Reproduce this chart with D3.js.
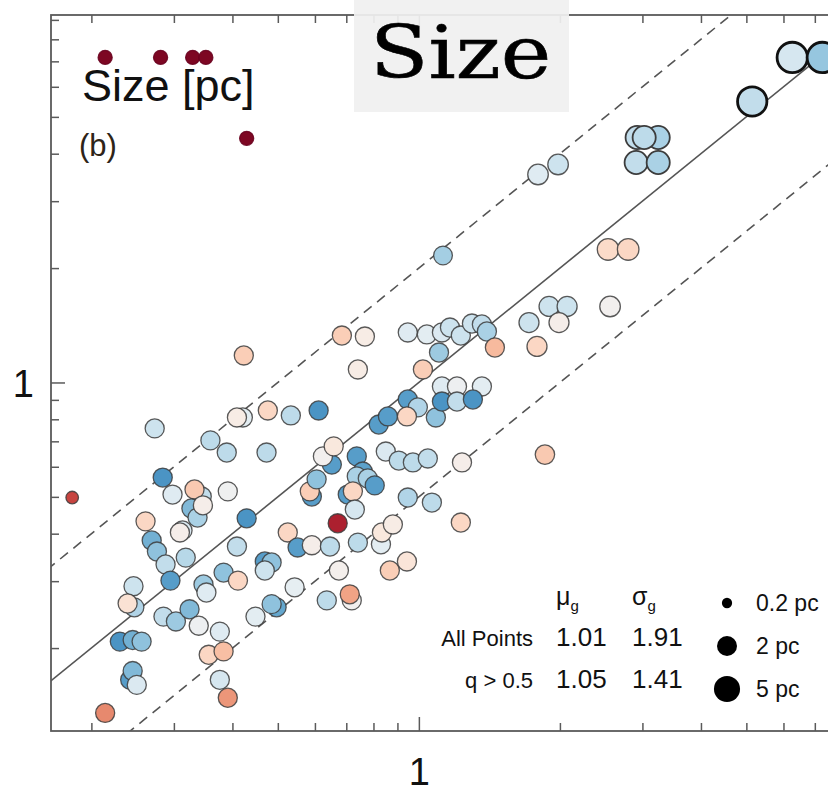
<!DOCTYPE html>
<html>
<head>
<meta charset="utf-8">
<script src="https://cdn.jsdelivr.net/npm/d3@7"></script>
<style>
  html, body { margin: 0; padding: 0; background: #fff; }
  svg { display: block; font-family: "Liberation Sans", Arial, Helvetica, sans-serif; }
</style>
</head>
<body>
<svg id="chart" width="828" height="794"></svg>
<script>
// ---- data ----
// x and y: size [pc] in the two measurements; pc: marker size; q: colour value (0 red .. 1 blue)
const xVals = [0.214,0.281,0.329,0.351,0.429,
 0.423,0.685,0.767,0.741,0.947,1.040,1.120,1.165,1.229,1.298,1.363,1.397,1.104,1.453,1.020,
 1.718,1.787,1.896,2.072,1.991,2.559,1.796,1.982,1.126,2.534,2.797,
 2.923,3.242,3.026,2.909,3.242,5.146,6.266,7.262,
 0.273,0.421,0.409,0.476,0.533,0.611,0.359,0.389,0.473,0.284,0.298,0.344,0.332,0.327,0.337,0.346,0.391,
 0.182,0.261,0.429,0.269,0.276,0.288,0.313,0.309,0.318,0.409,0.295,0.246,0.247,0.239,0.347,0.352,0.383,0.411,
 0.285,0.303,0.324,0.339,0.230,0.245,0.256,0.242,0.245,0.250,0.214,0.376,0.356,0.383,0.376,0.391,
 0.448,0.497,0.485,0.543,0.636,0.719,0.712,0.675,0.741,0.830,0.834,0.880,0.867,0.943,0.671,
 0.525,0.551,0.591,0.646,0.469,0.485,0.469,0.591,0.585,0.605,0.652,0.624,0.658,
 0.737,0.759,0.737,0.778,0.805,0.705,0.723,0.730,0.850,0.906,0.971,1.045,
 0.821,0.859,0.947,0.995,0.943,1.087,0.947,1.066,
 1.120,1.206,1.363,1.120,1.206,1.304,1.236,1.858,1.229];
const yVals = [7.17,7.17,7.17,7.17,4.39,
 1.178,1.329,1.321,1.082,1.354,1.338,1.354,1.395,1.329,1.429,1.421,1.362,1.199,1.236,1.082,
 1.438,1.244,1.585,1.585,1.438,1.585,3.527,3.747,2.159,2.239,2.239,
 4.413,4.413,4.413,3.793,3.793,5.489,7.166,7.166,
 0.757,0.809,0.809,0.844,0.819,0.844,0.704,0.654,0.654,0.562,0.507,0.501,0.523,0.466,0.441,0.475,0.517,
 0.498,0.431,0.439,0.384,0.359,0.332,0.408,0.403,0.346,0.370,0.301,0.291,0.256,0.262,0.294,0.280,0.316,0.301,
 0.242,0.235,0.253,0.229,0.208,0.210,0.208,0.165,0.174,0.160,0.135,0.221,0.192,0.196,0.165,0.148,
 0.242,0.256,0.261,0.289,0.267,0.267,0.277,0.320,0.379,0.375,0.403,0.423,0.320,0.338,0.426,
 0.403,0.368,0.373,0.370,0.338,0.336,0.320,0.501,0.517,0.556,0.608,0.639,0.679,
 0.639,0.583,0.566,0.559,0.536,0.507,0.517,0.463,0.658,0.623,0.616,0.631,
 0.775,0.814,0.902,0.860,0.814,0.809,0.498,0.483,
 0.976,0.976,0.976,0.891,0.891,0.902,0.616,0.646,0.428];
const pcVals = [0.6,0.6,0.6,0.6,0.6,
 1.7,1.7,1.7,1.7,1.7,1.7,1.7,1.7,1.7,1.7,1.7,1.7,1.7,1.7,1.7,
 2.0,2.0,2.0,2.0,2.0,2.2,2.2,2.2,1.6,2.6,2.6,
 3.3,3.3,3.3,3.3,3.3,7.5,8.5,8.5,
 1.7,1.7,1.7,1.7,1.7,1.7,1.7,1.7,1.7,1.7,1.7,1.7,1.7,1.7,1.7,1.7,1.7,
 0.4,1.7,1.7,1.7,1.7,1.7,1.7,1.7,1.7,1.7,1.7,1.7,1.7,1.7,1.7,1.7,1.7,1.7,
 1.7,1.7,1.7,1.7,1.7,1.7,1.7,1.7,1.7,1.7,1.7,1.7,1.7,1.7,1.7,1.7,
 1.7,1.7,1.7,1.7,1.7,1.7,1.7,1.7,1.7,1.7,1.7,1.7,1.7,1.7,1.7,
 1.7,1.7,1.7,1.7,1.7,1.7,1.7,1.7,1.7,1.7,1.7,1.7,1.7,
 1.7,1.7,1.7,1.7,1.7,1.7,1.7,1.7,1.7,1.7,1.7,1.7,
 1.7,1.7,1.7,1.7,1.7,1.7,1.7,1.7,
 1.7,1.7,1.7,1.7,1.7,1.7,1.7,1.8,1.7];
const qVals = [0.03,0.03,0.03,0.03,0.03,
 0.38,0.38,0.47,0.47,0.56,0.55,0.57,0.6,0.6,0.6,0.62,0.66,0.68,0.34,0.38,
 0.6,0.4,0.6,0.6,0.48,0.5,0.56,0.6,0.67,0.41,0.4,
 0.62,0.66,0.63,0.62,0.66,0.62,0.58,0.69,
 0.6,0.55,0.47,0.4,0.63,0.8,0.63,0.63,0.63,0.8,0.56,0.62,0.37,0.72,0.66,0.48,0.51,
 0.16,0.4,0.8,0.74,0.7,0.62,0.57,0.48,0.64,0.62,0.78,0.6,0.65,0.43,0.68,0.56,0.7,0.4,
 0.62,0.68,0.72,0.52,0.8,0.74,0.7,0.78,0.72,0.57,0.26,0.56,0.4,0.35,0.58,0.28,
 0.55,0.76,0.7,0.54,0.63,0.5,0.3,0.49,0.63,0.55,0.45,0.47,0.38,0.44,0.1,
 0.4,0.78,0.48,0.63,0.78,0.7,0.6,0.78,0.38,0.7,0.78,0.5,0.45,
 0.78,0.77,0.66,0.66,0.78,0.78,0.4,0.58,0.57,0.63,0.63,0.62,
 0.78,0.78,0.78,0.65,0.4,0.7,0.65,0.63,
 0.56,0.52,0.55,0.8,0.62,0.8,0.48,0.37,0.4];

const xMinorTicks = [0.2,0.3,0.4,0.5,0.6,0.7,0.8,0.9,2,3,4,5,6,7,8];
const yMinorTicks = [0.2,0.3,0.4,0.5,0.6,0.7,0.8,0.9,2,3,4,5,6,7,8,9];
const majorTicks = [1];
const fitLines = [{k: 1, dash: null}, {k: 2, dash: "10,7"}, {k: 0.5, dash: "10,7"}];
const statsHeader = ["μ", "σ"];
const statsRows = [["All Points", "1.01", "1.91"], ["q > 0.5", "1.05", "1.41"]];
const legendSizes = [0.2, 2, 5];

// ---- layout ----
const svg = d3.select("#chart");
const L = 51, R = 842, T = 15, B = 731;
const x = d3.scaleLog().domain([0.164, 8.0]).range([L, R]);
const y = d3.scaleLog().domain([0.121, 9.27]).range([B, T]);
const r = d3.scalePow().exponent(0.29).domain([0, 2]).range([0, 10]);
const frameColor = "#5a5a5a";
const SANS = '"Liberation Sans", Arial, Helvetica, sans-serif';

const plot = svg.append("g");
plot.append("defs").append("clipPath").attr("id", "clip")
  .append("rect").attr("x", L).attr("y", T).attr("width", R - L).attr("height", B - T);

// diagonal lines
const lineG = plot.append("g").attr("clip-path", "url(#clip)");
fitLines.forEach(f => {
  const xs = [0.05, 20];
  lineG.append("line")
    .attr("x1", x(xs[0])).attr("y1", y(xs[0] * f.k))
    .attr("x2", x(xs[1])).attr("y2", y(xs[1] * f.k))
    .attr("stroke", "#555").attr("stroke-width", 1.6)
    .attr("stroke-dasharray", f.dash);
});

// axes (inward ticks on all four sides)
function styleAxis(g) {
  g.select(".domain").remove();
  g.selectAll(".tick line").attr("stroke", frameColor).attr("stroke-width", 1.5);
}
const axes = [
  {gen: d3.axisBottom, s: x, minor: xMinorTicks, tr: `translate(0,${B})`},
  {gen: d3.axisTop, s: x, minor: xMinorTicks, tr: `translate(0,${T})`},
  {gen: d3.axisLeft, s: y, minor: yMinorTicks, tr: `translate(${L},0)`},
  {gen: d3.axisRight, s: y, minor: yMinorTicks, tr: `translate(${R},0)`},
];
axes.forEach(a => {
  svg.append("g").attr("transform", a.tr)
    .call(a.gen(a.s).tickValues(a.minor).tickSize(-8).tickSizeOuter(0).tickFormat(""))
    .call(styleAxis);
});
svg.append("g").attr("transform", `translate(0,${B})`)
  .call(d3.axisBottom(x).tickValues(majorTicks).tickSize(-14).tickSizeOuter(0).tickPadding(27).tickFormat(d3.format("d")))
  .call(styleAxis)
  .call(g => g.selectAll("text").attr("fill", "#111").style("font-size", "38px").style("font-family", SANS));
svg.append("g").attr("transform", `translate(${L},0)`)
  .call(d3.axisLeft(y).tickValues(majorTicks).tickSize(-14).tickSizeOuter(0).tickPadding(17).tickFormat(d3.format("d")))
  .call(styleAxis)
  .call(g => g.selectAll("text").attr("fill", "#111").style("font-size", "38px").style("font-family", SANS).attr("dy", "0.38em"));
svg.append("g").attr("transform", `translate(0,${T})`)
  .call(d3.axisTop(x).tickValues(majorTicks).tickSize(-14).tickSizeOuter(0).tickFormat(""))
  .call(styleAxis);
svg.append("g").attr("transform", `translate(${R},0)`)
  .call(d3.axisRight(y).tickValues(majorTicks).tickSize(-14).tickSizeOuter(0).tickFormat(""))
  .call(styleAxis);

// frame
svg.append("rect").attr("x", L).attr("y", T).attr("width", R - L).attr("height", B - T)
  .attr("fill", "none").attr("stroke", frameColor).attr("stroke-width", 1.8);

// points
const pts = xVals.map((v, i) => ({x: v, y: yVals[i], pc: pcVals[i], q: qVals[i]}));
svg.append("g").selectAll("circle").data(pts).join("circle")
  .attr("cx", d => x(d.x)).attr("cy", d => y(d.y)).attr("r", d => r(d.pc))
  .attr("fill", d => d3.interpolateRdBu(d.q))
  .attr("stroke", d => d.q < 0.08 ? d3.interpolateRdBu(0) : (r(d.pc) > 13 ? "#111" : "#3c3c3c"))
  .attr("stroke-width", d => r(d.pc) > 13 ? 2.8 : (r(d.pc) > 11 ? 1.8 : 1.3))
  .attr("stroke-opacity", d => r(d.pc) > 11 ? 1 : 0.85);

// labels in the panel
svg.append("text").attr("x", 82).attr("y", 101).style("font-size", "45px").attr("fill", "#111").text("Size [pc]");
svg.append("text").attr("x", 79).attr("y", 156).style("font-size", "31px").attr("fill", "#2e2418").text("(b)");

// stats table
const colX = [556, 632];
statsHeader.forEach((h, i) => {
  const t = svg.append("text").attr("x", colX[i]).attr("y", 605).style("font-size", "25px").attr("fill", "#111").text(h);
  t.append("tspan").style("font-size", "15px").attr("dy", 6).text("g");
});
statsRows.forEach((row, j) => {
  const yy = 646 + j * 42;
  svg.append("text").attr("x", 533).attr("y", yy).attr("text-anchor", "end").style("font-size", "22px").attr("fill", "#111").text(row[0]);
  svg.append("text").attr("x", colX[0]).attr("y", yy).style("font-size", "26px").attr("fill", "#111").text(row[1]);
  svg.append("text").attr("x", colX[1]).attr("y", yy).style("font-size", "26px").attr("fill", "#111").text(row[2]);
});

// size legend
legendSizes.forEach((s, i) => {
  const yy = 603 + i * 43;
  svg.append("circle").attr("cx", 727).attr("cy", yy).attr("r", r(s)).attr("fill", "#000");
  svg.append("text").attr("x", 756).attr("y", yy + 8).style("font-size", "23px").attr("fill", "#111").text(s + " pc");
});

// title box
svg.append("rect").attr("x", 354).attr("y", 0).attr("width", 215).attr("height", 112)
  .attr("fill", "#f0f0f0").attr("fill-opacity", 0.93);
svg.append("text").attr("transform", "translate(370,78) scale(1.17,1)")
  .style("font-family", '"DejaVu Serif", "Liberation Serif", serif').style("font-size", "73px")
  .attr("fill", "#000").attr("stroke", "#000").attr("stroke-width", 0.6).text("Size");
</script>
</body>
</html>
